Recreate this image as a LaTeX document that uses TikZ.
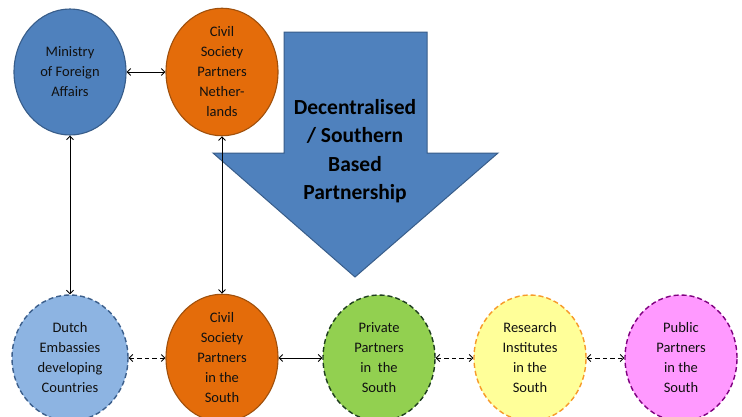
\documentclass[tikz,border=0pt]{standalone}
\usepackage{fontspec}
\setmainfont{Carlito}
\usetikzlibrary{shapes.geometric,arrows.meta}
\definecolor{mfafill}{HTML}{4F81BD}
\definecolor{mfaline}{HTML}{385D8A}
\definecolor{orfill}{HTML}{E46C0A}
\definecolor{orline}{HTML}{A0500C}
\definecolor{embfill}{HTML}{8DB4E2}
\definecolor{embline}{HTML}{3C5F8C}
\definecolor{grfill}{HTML}{92D050}
\definecolor{grline}{HTML}{1F3F1F}
\definecolor{yefill}{HTML}{FFFF99}
\definecolor{yeline}{HTML}{F79A2A}
\definecolor{pkfill}{HTML}{FF99FF}
\definecolor{pkline}{HTML}{800080}
\definecolor{txt}{HTML}{111111}
\tikzset{
  actor/.style={ellipse, draw, line width=1.1pt, minimum width=112pt, minimum height=126pt,
    inner sep=0pt, align=center, text=txt, font=\fontsize{14.5}{20}\selectfont},
  dashedactor/.style={actor, dash pattern=on 5pt off 3pt, line width=1.4pt},
  link/.style={{Straight Barb[length=3.5pt,width=7pt]}-{Straight Barb[length=3.5pt,width=7pt]}, line width=0.9pt, black},
  dashlink/.style={link, dash pattern=on 4.5pt off 3pt}
}
\begin{document}
\begin{tikzpicture}[x=1pt,y=-1pt]
\useasboundingbox (0,0) rectangle (742,416);
\clip (0,0) rectangle (742,416);
\fill[white] (0,0) rectangle (742,416);
% big arrow
\filldraw[fill=mfafill, draw=mfaline, line width=1pt]
  (284,32) -- (427,32) -- (427,153) -- (498,153) -- (355,277) -- (213,153) -- (284,153) -- cycle;
\node (big) at (355,151) [align=center, font=\bfseries\fontsize{21.5}{28.5}\selectfont, text=black]
  {Decentralised\\/ Southern\\Based\\Partnership};
% top circles
\node[actor, fill=mfafill, draw=mfaline] (mfa) at (70,72) {Ministry\\of Foreign\\Affairs};
\node[actor, fill=orfill, draw=orline] (csnl) at (222,72) {Civil\\Society\\Partners\\Nether-\\lands};
% bottom circles
\node[dashedactor, fill=embfill, draw=embline, minimum width=116pt] (emb) at (70,358) {Dutch\\Embassies\\developing\\Countries};
\node[actor, fill=orfill, draw=orline] (css) at (222,358) {Civil\\Society\\Partners\\in the\\South};
\node[dashedactor, fill=grfill, draw=grline] (priv) at (379,358) {Private\\Partners\\in\ \ the\\South};
\node[dashedactor, fill=yefill, draw=yeline] (res) at (530,358) {Research\\Institutes\\in the\\South};
\node[dashedactor, fill=pkfill, draw=pkline] (pub) at (681,358) {Public\\Partners\\in the\\South};
% connectors
\draw[link] (mfa) -- (csnl);
\draw[link] (mfa) -- (emb);
\draw[link] (csnl) -- (css);
\draw[dashlink] (emb) -- (css);
\draw[link] (css) -- (priv);
\draw[dashlink] (priv) -- (res);
\draw[dashlink] (res) -- (pub);
\end{tikzpicture}
\end{document}
